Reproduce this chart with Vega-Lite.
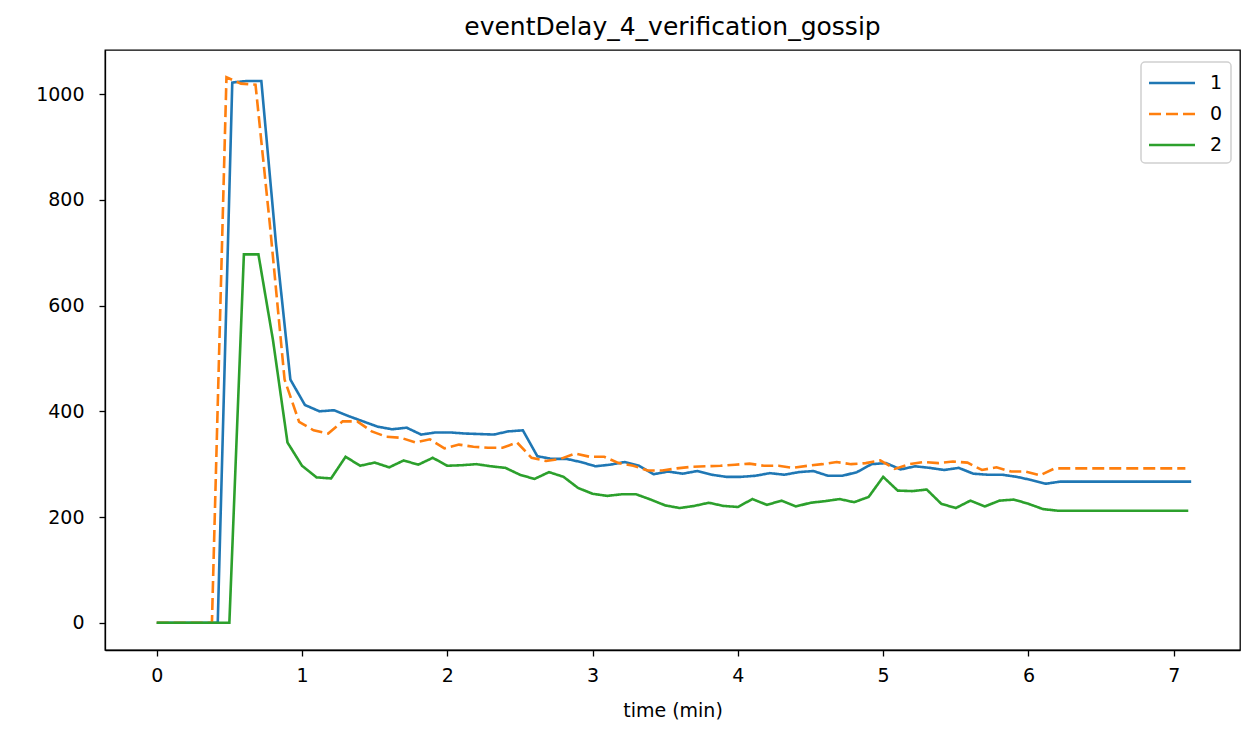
{
  "$schema": "https://vega.github.io/schema/vega-lite/v6.json",
  "autosize": "none",
  "width": 1135,
  "height": 600,
  "padding": {"left": 105, "top": 50, "right": 3, "bottom": 85},
  "background": "white",
  "title": {"text": "eventDelay_4_verification_gossip", "font": "DejaVu Sans", "fontSize": 25, "fontWeight": "normal", "color": "black", "offset": 10, "anchor": "middle"},
  "data": {"values": [
    {"series": "1", "t": 0.0, "v": 0},
    {"series": "1", "t": 0.42, "v": 0},
    {"series": "1", "t": 0.52, "v": 1022},
    {"series": "1", "t": 0.62, "v": 1025},
    {"series": "1", "t": 0.72, "v": 1025},
    {"series": "1", "t": 0.82, "v": 720},
    {"series": "1", "t": 0.92, "v": 460},
    {"series": "1", "t": 1.02, "v": 412},
    {"series": "1", "t": 1.12, "v": 400},
    {"series": "1", "t": 1.22, "v": 402},
    {"series": "1", "t": 1.32, "v": 391},
    {"series": "1", "t": 1.42, "v": 381},
    {"series": "1", "t": 1.52, "v": 371},
    {"series": "1", "t": 1.62, "v": 366},
    {"series": "1", "t": 1.72, "v": 369},
    {"series": "1", "t": 1.82, "v": 356},
    {"series": "1", "t": 1.92, "v": 360},
    {"series": "1", "t": 2.02, "v": 360},
    {"series": "1", "t": 2.12, "v": 358},
    {"series": "1", "t": 2.22, "v": 357},
    {"series": "1", "t": 2.32, "v": 356},
    {"series": "1", "t": 2.42, "v": 362},
    {"series": "1", "t": 2.52, "v": 364},
    {"series": "1", "t": 2.62, "v": 315},
    {"series": "1", "t": 2.72, "v": 310},
    {"series": "1", "t": 2.82, "v": 310},
    {"series": "1", "t": 2.92, "v": 304},
    {"series": "1", "t": 3.02, "v": 296},
    {"series": "1", "t": 3.12, "v": 299},
    {"series": "1", "t": 3.22, "v": 304},
    {"series": "1", "t": 3.32, "v": 297},
    {"series": "1", "t": 3.42, "v": 281},
    {"series": "1", "t": 3.52, "v": 286},
    {"series": "1", "t": 3.62, "v": 282},
    {"series": "1", "t": 3.72, "v": 287},
    {"series": "1", "t": 3.82, "v": 280},
    {"series": "1", "t": 3.92, "v": 276},
    {"series": "1", "t": 4.02, "v": 276},
    {"series": "1", "t": 4.12, "v": 278},
    {"series": "1", "t": 4.22, "v": 283},
    {"series": "1", "t": 4.32, "v": 280},
    {"series": "1", "t": 4.42, "v": 285},
    {"series": "1", "t": 4.52, "v": 287},
    {"series": "1", "t": 4.62, "v": 278},
    {"series": "1", "t": 4.72, "v": 278},
    {"series": "1", "t": 4.82, "v": 285},
    {"series": "1", "t": 4.92, "v": 300},
    {"series": "1", "t": 5.02, "v": 302},
    {"series": "1", "t": 5.12, "v": 290},
    {"series": "1", "t": 5.22, "v": 296},
    {"series": "1", "t": 5.32, "v": 293},
    {"series": "1", "t": 5.42, "v": 289},
    {"series": "1", "t": 5.52, "v": 293},
    {"series": "1", "t": 5.62, "v": 282},
    {"series": "1", "t": 5.72, "v": 280},
    {"series": "1", "t": 5.82, "v": 280},
    {"series": "1", "t": 5.92, "v": 276},
    {"series": "1", "t": 6.02, "v": 270},
    {"series": "1", "t": 6.12, "v": 263},
    {"series": "1", "t": 6.22, "v": 267},
    {"series": "1", "t": 6.52, "v": 267},
    {"series": "1", "t": 6.82, "v": 267},
    {"series": "1", "t": 7.12, "v": 267},
    {"series": "0", "t": 0.0, "v": 0},
    {"series": "0", "t": 0.38, "v": 0},
    {"series": "0", "t": 0.48, "v": 1032},
    {"series": "0", "t": 0.58, "v": 1020},
    {"series": "0", "t": 0.68, "v": 1018},
    {"series": "0", "t": 0.78, "v": 750},
    {"series": "0", "t": 0.88, "v": 460},
    {"series": "0", "t": 0.98, "v": 380},
    {"series": "0", "t": 1.08, "v": 364},
    {"series": "0", "t": 1.18, "v": 358},
    {"series": "0", "t": 1.28, "v": 381},
    {"series": "0", "t": 1.38, "v": 381},
    {"series": "0", "t": 1.48, "v": 362},
    {"series": "0", "t": 1.58, "v": 352},
    {"series": "0", "t": 1.68, "v": 350},
    {"series": "0", "t": 1.78, "v": 341},
    {"series": "0", "t": 1.88, "v": 347},
    {"series": "0", "t": 1.98, "v": 330},
    {"series": "0", "t": 2.08, "v": 337},
    {"series": "0", "t": 2.18, "v": 333},
    {"series": "0", "t": 2.28, "v": 331},
    {"series": "0", "t": 2.38, "v": 331},
    {"series": "0", "t": 2.48, "v": 341},
    {"series": "0", "t": 2.58, "v": 312},
    {"series": "0", "t": 2.68, "v": 306},
    {"series": "0", "t": 2.78, "v": 310},
    {"series": "0", "t": 2.88, "v": 320},
    {"series": "0", "t": 2.98, "v": 314},
    {"series": "0", "t": 3.08, "v": 314},
    {"series": "0", "t": 3.18, "v": 302},
    {"series": "0", "t": 3.28, "v": 297},
    {"series": "0", "t": 3.38, "v": 288},
    {"series": "0", "t": 3.48, "v": 288},
    {"series": "0", "t": 3.58, "v": 292},
    {"series": "0", "t": 3.68, "v": 295},
    {"series": "0", "t": 3.78, "v": 296},
    {"series": "0", "t": 3.88, "v": 297},
    {"series": "0", "t": 3.98, "v": 299},
    {"series": "0", "t": 4.08, "v": 301},
    {"series": "0", "t": 4.18, "v": 297},
    {"series": "0", "t": 4.28, "v": 297},
    {"series": "0", "t": 4.38, "v": 293},
    {"series": "0", "t": 4.48, "v": 297},
    {"series": "0", "t": 4.58, "v": 300},
    {"series": "0", "t": 4.68, "v": 304},
    {"series": "0", "t": 4.78, "v": 300},
    {"series": "0", "t": 4.88, "v": 302},
    {"series": "0", "t": 4.98, "v": 307},
    {"series": "0", "t": 5.08, "v": 291},
    {"series": "0", "t": 5.18, "v": 300},
    {"series": "0", "t": 5.28, "v": 304},
    {"series": "0", "t": 5.38, "v": 302},
    {"series": "0", "t": 5.48, "v": 305},
    {"series": "0", "t": 5.58, "v": 303},
    {"series": "0", "t": 5.68, "v": 289},
    {"series": "0", "t": 5.78, "v": 294},
    {"series": "0", "t": 5.88, "v": 286},
    {"series": "0", "t": 5.98, "v": 286},
    {"series": "0", "t": 6.08, "v": 279},
    {"series": "0", "t": 6.18, "v": 292},
    {"series": "0", "t": 6.48, "v": 292},
    {"series": "0", "t": 6.78, "v": 292},
    {"series": "0", "t": 7.08, "v": 292},
    {"series": "2", "t": 0.0, "v": 0},
    {"series": "2", "t": 0.5, "v": 0},
    {"series": "2", "t": 0.6, "v": 697},
    {"series": "2", "t": 0.7, "v": 697},
    {"series": "2", "t": 0.8, "v": 535},
    {"series": "2", "t": 0.9, "v": 341},
    {"series": "2", "t": 1.0, "v": 297},
    {"series": "2", "t": 1.1, "v": 275},
    {"series": "2", "t": 1.2, "v": 273},
    {"series": "2", "t": 1.3, "v": 314},
    {"series": "2", "t": 1.4, "v": 297},
    {"series": "2", "t": 1.5, "v": 303},
    {"series": "2", "t": 1.6, "v": 294},
    {"series": "2", "t": 1.7, "v": 307},
    {"series": "2", "t": 1.8, "v": 299},
    {"series": "2", "t": 1.9, "v": 312},
    {"series": "2", "t": 2.0, "v": 297},
    {"series": "2", "t": 2.1, "v": 298},
    {"series": "2", "t": 2.2, "v": 300},
    {"series": "2", "t": 2.3, "v": 296},
    {"series": "2", "t": 2.4, "v": 293},
    {"series": "2", "t": 2.5, "v": 280},
    {"series": "2", "t": 2.6, "v": 272},
    {"series": "2", "t": 2.7, "v": 285},
    {"series": "2", "t": 2.8, "v": 276},
    {"series": "2", "t": 2.9, "v": 255},
    {"series": "2", "t": 3.0, "v": 244},
    {"series": "2", "t": 3.1, "v": 240},
    {"series": "2", "t": 3.2, "v": 243},
    {"series": "2", "t": 3.3, "v": 243},
    {"series": "2", "t": 3.4, "v": 233},
    {"series": "2", "t": 3.5, "v": 222},
    {"series": "2", "t": 3.6, "v": 217},
    {"series": "2", "t": 3.7, "v": 221},
    {"series": "2", "t": 3.8, "v": 227},
    {"series": "2", "t": 3.9, "v": 221},
    {"series": "2", "t": 4.0, "v": 219},
    {"series": "2", "t": 4.1, "v": 234},
    {"series": "2", "t": 4.2, "v": 223},
    {"series": "2", "t": 4.3, "v": 231},
    {"series": "2", "t": 4.4, "v": 220},
    {"series": "2", "t": 4.5, "v": 227},
    {"series": "2", "t": 4.6, "v": 230},
    {"series": "2", "t": 4.7, "v": 234},
    {"series": "2", "t": 4.8, "v": 228},
    {"series": "2", "t": 4.9, "v": 238},
    {"series": "2", "t": 5.0, "v": 276},
    {"series": "2", "t": 5.1, "v": 250},
    {"series": "2", "t": 5.2, "v": 249},
    {"series": "2", "t": 5.3, "v": 252},
    {"series": "2", "t": 5.4, "v": 225},
    {"series": "2", "t": 5.5, "v": 217},
    {"series": "2", "t": 5.6, "v": 231},
    {"series": "2", "t": 5.7, "v": 220},
    {"series": "2", "t": 5.8, "v": 231},
    {"series": "2", "t": 5.9, "v": 233},
    {"series": "2", "t": 6.0, "v": 225},
    {"series": "2", "t": 6.1, "v": 215},
    {"series": "2", "t": 6.2, "v": 212},
    {"series": "2", "t": 6.5, "v": 212},
    {"series": "2", "t": 6.8, "v": 212},
    {"series": "2", "t": 7.1, "v": 212}
  ]},
  "mark": {"type": "line", "strokeWidth": 2.6, "clip": true},
  "encoding": {
    "x": {"field": "t", "type": "quantitative", "scale": {"domain": [-0.356, 7.456], "nice": false, "zero": false},
      "axis": {"values": [0, 1, 2, 3, 4, 5, 6, 7], "title": "time (min)", "grid": false, "format": "d", "labelPadding": 10, "titlePadding": 16}},
    "y": {"field": "v", "type": "quantitative", "scale": {"domain": [-51.6, 1083.6], "nice": false, "zero": false},
      "axis": {"values": [0, 200, 400, 600, 800, 1000], "title": null, "grid": false, "format": "d", "labelPadding": 15}},
    "color": {"field": "series", "type": "nominal", "sort": ["1", "0", "2"],
      "scale": {"domain": ["1", "0", "2"], "range": ["#1f77b4", "#ff7f0e", "#2ca02c"]},
      "legend": {"title": null, "orient": "none", "legendX": 1036, "legendY": 12}},
    "strokeDash": {"field": "series", "type": "nominal", "sort": ["1", "0", "2"],
      "scale": {"domain": ["1", "0", "2"], "range": [[1, 0], [12, 5], [1, 0]]},
      "legend": {"title": null, "orient": "none", "legendX": 1036, "legendY": 12}},
    "order": {"field": "t", "type": "quantitative"}
  },
  "config": {
    "font": "DejaVu Sans",
    "view": {"stroke": "black", "strokeWidth": 1.3},
    "axis": {"domainColor": "black", "domainWidth": 1.3, "tickColor": "black", "tickSize": 6, "tickWidth": 1.3,
      "labelFont": "DejaVu Sans", "labelFontSize": 19, "labelColor": "black",
      "titleFont": "DejaVu Sans", "titleFontSize": 19, "titleFontWeight": "normal", "titleColor": "black"},
    "legend": {"labelFont": "DejaVu Sans", "labelFontSize": 19, "labelColor": "black", "symbolType": "M-2,0H2",
      "symbolSize": 529, "symbolStrokeWidth": 2.6, "symbolOffset": 10, "rowPadding": 8, "padding": 8,
      "strokeColor": "#d0d0d0", "strokeWidth": 1.5, "fillColor": "white", "cornerRadius": 4, "labelOffset": 25}
  }
}
